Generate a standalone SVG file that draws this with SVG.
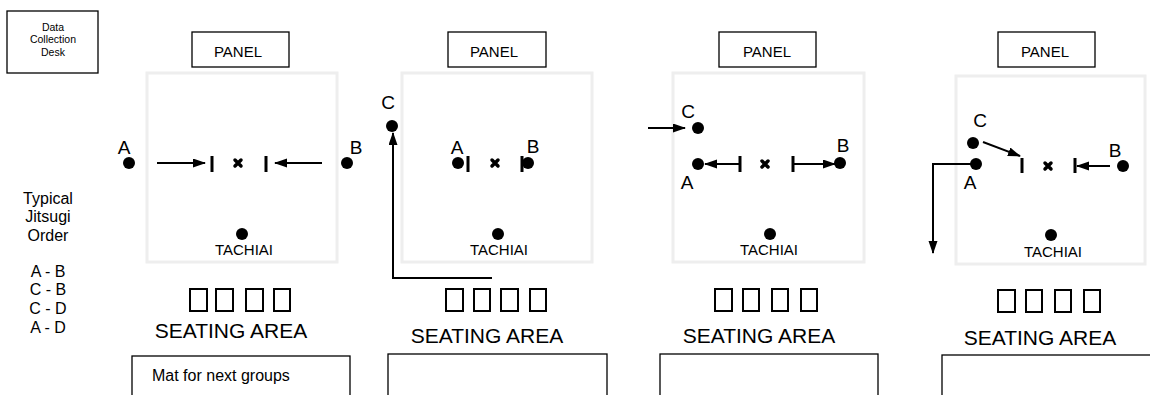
<svg xmlns="http://www.w3.org/2000/svg" width="1150" height="395" viewBox="0 0 1150 395">
<style>
text{font-family:"Liberation Sans",Arial,sans-serif;fill:#000}
.box{fill:#fff;stroke:#000;stroke-width:1.3}
.ring{fill:none;stroke:#eeeeee;stroke-width:3}
.seat{fill:none;stroke:#000;stroke-width:2}
.lbl{font-size:19px;text-anchor:middle}
.panel{font-size:15px;text-anchor:middle}
.tach{font-size:15px;text-anchor:middle}
.seatlbl{font-size:21px;text-anchor:middle}
.mid{font-size:16px;text-anchor:middle}
.desk{font-size:10.5px;text-anchor:middle}
.arr{fill:none;stroke:#000;stroke-width:2;marker-end:url(#ah)}
.tick{stroke:#000;stroke-width:3}
.x{stroke:#000;stroke-width:3.5;stroke-linecap:round}
</style>
<defs>
<marker id="ah" markerUnits="userSpaceOnUse" markerWidth="13" markerHeight="10" refX="12" refY="4.5" orient="auto">
<path d="M0,0 L13,4.5 L0,9 z" fill="#000"/>
</marker>
</defs>

<g id="desk">
<rect class="box" x="7" y="11" width="91" height="62"/>
<text class="desk" x="53" y="31">Data</text>
<text class="desk" x="53" y="43">Collection</text>
<text class="desk" x="53" y="56">Desk</text>
</g>

<g id="order">
<text class="mid" x="48" y="204">Typical</text>
<text class="mid" x="48" y="222">Jitsugi</text>
<text class="mid" x="48" y="241">Order</text>
<text class="mid" x="48" y="277">A - B</text>
<text class="mid" x="48" y="295">C - B</text>
<text class="mid" x="48" y="314">C - D</text>
<text class="mid" x="48" y="333">A - D</text>
</g>

<!-- Panel 1 -->
<g id="scene1">
<rect class="box" x="192" y="32" width="97" height="35"/>
<text class="panel" x="238" y="57">PANEL</text>
<rect class="ring" x="147" y="73" width="190" height="189"/>
<circle cx="129" cy="163" r="6"/>
<text class="lbl" x="124" y="154">A</text>
<circle cx="347" cy="163" r="6"/>
<text class="lbl" x="356" y="154">B</text>
<line class="tick" x1="212" y1="156" x2="212" y2="172"/>
<path class="x" d="M235,160 L241,166 M241,160 L235,166"/>
<line class="tick" x1="266" y1="156" x2="266" y2="172"/>
<circle cx="242" cy="234" r="6"/>
<text class="tach" x="244" y="255">TACHIAI</text>
<rect class="seat" x="190" y="289" width="17" height="22"/>
<rect class="seat" x="216" y="289" width="17" height="22"/>
<rect class="seat" x="246" y="289" width="17" height="22"/>
<rect class="seat" x="274" y="289" width="16" height="22"/>
<text class="seatlbl" x="231" y="338">SEATING AREA</text>
<rect class="box" x="132" y="356" width="218" height="60"/>
<text x="152" y="381" font-size="16">Mat for next groups</text>
</g>

<!-- Panel 2 -->
<g id="scene2">
<rect class="box" x="448" y="32" width="98" height="35"/>
<text class="panel" x="494" y="57">PANEL</text>
<rect class="ring" x="402" y="73" width="190" height="189"/>
<circle cx="392" cy="126" r="6"/>
<text class="lbl" x="388" y="109">C</text>
<circle cx="458" cy="163" r="6"/>
<text class="lbl" x="457" y="154">A</text>
<line class="tick" x1="468" y1="156" x2="468" y2="172"/>
<path class="x" d="M492,160 L498,166 M498,160 L492,166"/>
<circle cx="528" cy="163" r="6"/>
<line class="tick" x1="522" y1="156" x2="522" y2="172"/>
<text class="lbl" x="533" y="153">B</text>
<circle cx="498" cy="234" r="6"/>
<text class="tach" x="499" y="255">TACHIAI</text>
<rect class="seat" x="446" y="289" width="17" height="22"/>
<rect class="seat" x="474" y="289" width="16" height="22"/>
<rect class="seat" x="501" y="289" width="17" height="22"/>
<rect class="seat" x="530" y="289" width="16" height="22"/>
<text class="seatlbl" x="487" y="343">SEATING AREA</text>
<rect class="box" x="388" y="354" width="219" height="60"/>
</g>

<!-- Panel 3 -->
<g id="scene3">
<rect class="box" x="719" y="32" width="97" height="35"/>
<text class="panel" x="767" y="57">PANEL</text>
<rect class="ring" x="673" y="73" width="191" height="189"/>
<circle cx="698" cy="128" r="6"/>
<text class="lbl" x="688" y="118">C</text>
<circle cx="698" cy="164" r="6"/>
<text class="lbl" x="687" y="189">A</text>
<line class="tick" x1="740" y1="156" x2="740" y2="172"/>
<path class="x" d="M762,161 L768,167 M768,161 L762,167"/>
<line class="tick" x1="793" y1="156" x2="793" y2="172"/>
<circle cx="840" cy="163" r="6"/>
<text class="lbl" x="843" y="152">B</text>
<circle cx="770" cy="234" r="6"/>
<text class="tach" x="769" y="255">TACHIAI</text>
<rect class="seat" x="715" y="289" width="17" height="22"/>
<rect class="seat" x="743" y="289" width="16" height="22"/>
<rect class="seat" x="772" y="289" width="16" height="22"/>
<rect class="seat" x="801" y="289" width="16" height="22"/>
<text class="seatlbl" x="759" y="343">SEATING AREA</text>
<rect class="box" x="660" y="354" width="218" height="60"/>
</g>

<!-- Panel 4 -->
<g id="scene4">
<rect class="box" x="998" y="32" width="97" height="35"/>
<text class="panel" x="1045" y="57">PANEL</text>
<rect class="ring" x="956" y="76" width="189" height="188"/>
<circle cx="973" cy="143" r="6"/>
<text class="lbl" x="980" y="127">C</text>
<circle cx="976" cy="164" r="6"/>
<text class="lbl" x="970" y="189">A</text>
<line class="tick" x1="1022" y1="158" x2="1022" y2="173"/>
<path class="x" d="M1045,163 L1051,169 M1051,163 L1045,169"/>
<line class="tick" x1="1075" y1="158" x2="1075" y2="173"/>
<circle cx="1123" cy="166" r="6"/>
<text class="lbl" x="1115" y="157">B</text>
<circle cx="1051" cy="235" r="6"/>
<text class="tach" x="1053" y="257">TACHIAI</text>
<rect class="seat" x="998" y="290" width="17" height="22"/>
<rect class="seat" x="1026" y="290" width="16" height="22"/>
<rect class="seat" x="1055" y="290" width="16" height="22"/>
<rect class="seat" x="1084" y="290" width="16" height="22"/>
<text class="seatlbl" x="1040" y="345">SEATING AREA</text>
<rect class="box" x="942" y="355" width="230" height="60"/>
</g>

<g id="connectors">
<line class="arr" x1="157" y1="163" x2="205" y2="163"/>
<line class="arr" x1="322" y1="163" x2="275" y2="163"/>
<polyline class="arr" points="492,278 393,278 393,133"/>
<line class="arr" x1="648" y1="128" x2="685" y2="128"/>
<line class="arr" x1="740" y1="164" x2="705" y2="164"/>
<line class="arr" x1="793" y1="164" x2="835" y2="164"/>
<line class="arr" x1="983" y1="142" x2="1020" y2="156"/>
<line class="arr" x1="1110" y1="166" x2="1077" y2="166"/>
<polyline class="arr" points="976,164 933,164 933,253"/>
</g>
</svg>
